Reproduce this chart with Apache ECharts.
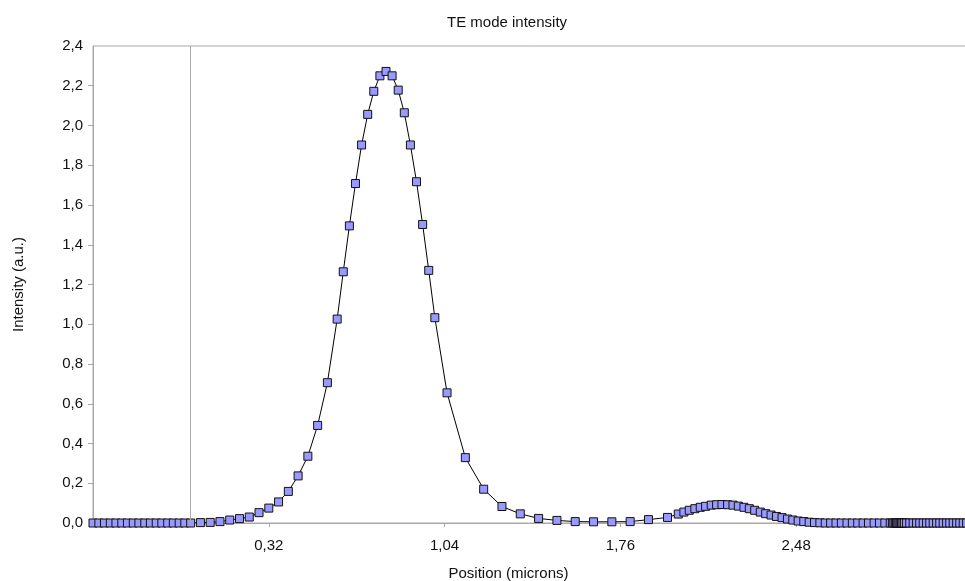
<!DOCTYPE html>
<html>
<head>
<meta charset="utf-8">
<script src="https://cdn.jsdelivr.net/npm/echarts@6/dist/echarts.min.js"></script>
<style>
html,body{margin:0;padding:0;background:#fff;overflow:hidden;}
#chart{width:965px;height:581px;}
</style>
</head>
<body>
<div id="chart"></div>
<script>
// Position (microns)
const positions = [
  -0.400,-0.376,-0.353,-0.329,-0.306,-0.282,-0.259,-0.235,-0.212,-0.188,-0.165,-0.141,-0.118,-0.094,-0.071,-0.047,-0.024,0.000,
  0.04,0.08,0.12,0.16,0.20,0.24,0.28,0.32,0.36,0.40,0.44,0.48,0.52,0.56,
  0.600,0.625,0.650,0.675,0.700,0.725,0.750,0.775,0.800,0.825,0.850,0.875,0.900,0.925,0.950,0.975,1.000,
  1.050,1.125,1.200,1.275,1.350,1.425,1.500,1.575,1.650,1.725,1.800,1.875,1.953,
  1.997,2.020,2.042,2.065,2.087,2.109,2.132,2.154,2.176,2.199,2.221,2.243,2.266,2.288,2.310,2.333,2.355,2.377,2.399,2.422,2.444,2.466,2.488,2.511,2.533,2.555,2.577,2.599,
  2.621,2.643,2.665,2.688,2.710,2.732,2.754,2.776,2.799,2.821,2.843,2.865,
  2.874,2.880,2.886,2.891,2.896,2.901,2.906,2.911,2.917,2.923,
  2.932,2.945,2.959,2.973,2.986,3.000,3.014,3.027,3.041,3.055,3.068,3.082,3.096,3.109,3.123,3.137,3.150,3.164,3.178
];
// Intensity (a.u.)
const intensity = [
  0,0,0,0,0,0,0,0,0,0,0,0,0,0,0,0,0,0,
  0.002,0.003,0.007,0.015,0.022,0.030,0.052,0.075,0.106,0.159,0.237,0.336,0.491,0.706,
  1.026,1.264,1.495,1.708,1.902,2.056,2.172,2.250,2.272,2.250,2.178,2.064,1.902,1.717,1.502,1.271,1.033,
  0.655,0.329,0.170,0.083,0.046,0.023,0.013,0.007,0.006,0.006,0.007,0.017,0.028,
  0.045,0.055,0.064,0.072,0.079,0.084,0.090,0.092,0.093,0.092,0.090,0.085,0.079,0.072,0.064,0.055,0.047,0.040,0.033,0.027,0.020,0.015,0.010,0.007,0.004,0.002,0.001,0.000,
  0,0,0,0,0,0,0,0,0,0,0,0,
  0,0,0,0,0,0,0,0,0,0,
  0,0,0,0,0,0,0,0,0,0,0,0,0,0,0,0,0,0,0
];
const xTickValues = [0.32, 1.04, 1.76, 2.48];
const yTickValues = [0.2, 0.4, 0.6, 0.8, 1.0, 1.2, 1.4, 1.6, 1.8, 2.0, 2.2];
const titleText = 'TE mode intensity';
const xName = 'Position (microns)';
const yName = 'Intensity (a.u.)';

const FONT = '"Liberation Sans", Arial, sans-serif';
const AXIS_GRAY = '#a8a8a8';
const TXT = '#111';

const data = positions.map((x, i) => [x, intensity[i]]);

const chart = echarts.init(document.getElementById('chart'), null, {renderer: 'canvas'});
chart.setOption({
  animation: false,
  backgroundColor: '#fff',
  title: {
    text: titleText,
    left: 442,
    top: 10,
    textStyle: {fontFamily: FONT, fontSize: 15, fontWeight: 'normal', color: TXT}
  },
  grid: {
    left: 93, top: 46, width: 879, height: 477,
    outerBoundsMode: 'none',
    show: true, borderColor: AXIS_GRAY, borderWidth: 1, backgroundColor: 'transparent',
    containLabel: false
  },
  xAxis: {
    type: 'value',
    min: -0.4,
    max: 3.2,
    name: xName,
    nameLocation: 'middle',
    nameGap: 43,
    nameTextStyle: {fontFamily: FONT, fontSize: 15, color: TXT, padding: [0, 48, 0, 0]},
    axisLine: {show: true, onZero: false, lineStyle: {color: AXIS_GRAY, width: 1}},
    axisTick: {show: true, length: 4, customValues: xTickValues, lineStyle: {color: AXIS_GRAY}},
    axisLabel: {
      customValues: xTickValues,
      margin: 15,
      fontFamily: FONT, fontSize: 15, color: TXT,
      formatter: v => v.toFixed(2).replace('.', ',')
    },
    splitLine: {show: false}
  },
  yAxis: {
    type: 'value',
    min: 0,
    max: 2.4,
    interval: 0.2,
    name: yName,
    nameLocation: 'middle',
    nameGap: 67,
    nameTextStyle: {fontFamily: FONT, fontSize: 15, color: TXT},
    axisLine: {show: true, onZero: false, lineStyle: {color: AXIS_GRAY, width: 1}},
    axisTick: {show: true, length: 5, customValues: yTickValues, lineStyle: {color: AXIS_GRAY}},
    axisLabel: {
      margin: 10,
      fontFamily: FONT, fontSize: 15, color: TXT,
      formatter: v => v.toFixed(1).replace('.', ',')
    },
    splitLine: {show: false}
  },
  series: [{
    type: 'line',
    data: data,
    showSymbol: true,
    showAllSymbol: true,
    symbol: 'rect',
    symbolSize: 8,
    clip: true,
    lineStyle: {color: '#000', width: 1},
    itemStyle: {color: '#9999ff', borderColor: '#111', borderWidth: 1},
    emphasis: {disabled: true},
    markLine: {
      silent: true,
      symbol: ['none', 'none'],
      label: {show: false},
      lineStyle: {color: AXIS_GRAY, type: 'solid', width: 1},
      data: [{xAxis: 0}]
    }
  }]
});
</script>
</body>
</html>
